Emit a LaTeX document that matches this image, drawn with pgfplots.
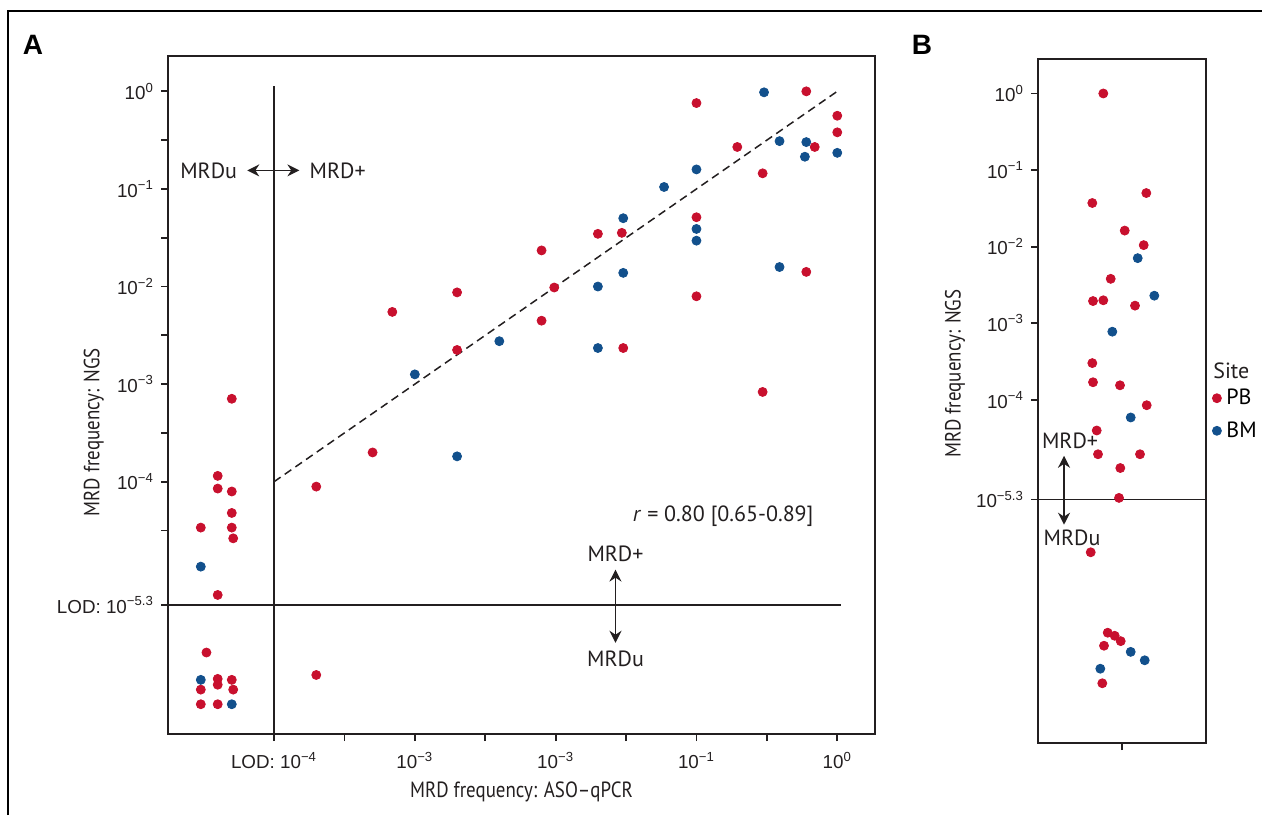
\documentclass[border=0pt]{standalone}
\usepackage{fontspec}
\setmainfont{PT Sans}
\newfontfamily\tickfont{Liberation Sans}
\newfontfamily\labfont[FakeStretch=0.86]{PT Sans}
\usepackage{pgfplots}
\pgfplotsset{compat=1.18}
\usetikzlibrary{arrows.meta}

\definecolor{pbred}{RGB}{200,16,46}
\definecolor{bmblue}{RGB}{18,80,140}
\definecolor{axgray}{RGB}{35,31,32}

% log10 values; points left of / below LOD are jittered
\pgfplotstableread{
x y
-0.22 0.00
-1.00 -0.12
0.00 -0.25
0.00 -0.42
-0.71 -0.57
-0.16 -0.57
-0.53 -0.84
-1.00 -1.29
-1.70 -1.46
-1.53 -1.45
-2.10 -1.63
-0.22 -1.85
-2.01 -2.01
-2.70 -2.06
-3.16 -2.26
-1.00 -2.10
-2.10 -2.35
-2.70 -2.65
-1.52 -2.63
-0.53 -3.08
-4.30 -3.15
-3.30 -3.70
-3.70 -4.05
-4.40 -3.94
-4.40 -4.07
-4.30 -4.10
-4.30 -4.32
-4.52 -4.47
-4.30 -4.47
-4.29 -4.58
-4.40 -5.16
-4.48 -5.75
-4.40 -6.02
-4.30 -6.03
-4.40 -6.08
-4.52 -6.13
-4.29 -6.13
-4.52 -6.28
-4.40 -6.28
-3.70 -5.98
}\pbA
\pgfplotstableread{
x y
-0.52 -0.01
-0.41 -0.51
-0.22 -0.52
-0.23 -0.67
0.00 -0.63
-1.00 -0.80
-1.23 -0.98
-1.52 -1.30
-1.00 -1.41
-1.00 -1.53
-0.41 -1.80
-1.52 -1.86
-1.70 -2.00
-2.40 -2.56
-1.70 -2.63
-3.00 -2.90
-2.70 -3.74
-4.52 -4.87
-4.52 -6.03
-4.30 -6.28
}\bmA
\pgfplotstableread{
x y
-1.87 0.00
-2.97 -1.43
2.43 -1.30
0.27 -1.79
2.17 -1.98
-1.13 -2.42
-2.90 -2.71
-1.87 -2.70
1.30 -2.77
-2.97 -3.52
-2.90 -3.77
-0.20 -3.81
2.47 -4.07
-2.53 -4.40
-2.40 -4.71
1.80 -4.71
-0.17 -4.89
-0.30 -5.28
-3.13 -5.99
-1.43 -7.04
-0.73 -7.08
-0.13 -7.15
-1.80 -7.21
-1.97 -7.70
}\pbB
\pgfplotstableread{
x y
1.57 -2.15
3.23 -2.64
-0.97 -3.11
0.87 -4.23
0.87 -7.29
2.27 -7.40
-2.17 -7.51
}\bmB

\newcommand{\tp}[1]{10\textsuperscript{#1}}

\tikzset{
  dbl/.style={line width=0.75pt, draw=axgray, {Stealth[length=6pt,width=6pt]}-{Stealth[length=6pt,width=6pt]}},
  ann/.style={font=\fontsize{11}{13}\selectfont, text=axgray},
}
\pgfplotsset{
  mrd/.style={
    scale only axis, clip=false,
    axis line style={axgray, line width=1.3pt},
    tick style={axgray, line width=0.9pt},
    tick align=outside, major tick length=3.5pt,
    xtick pos=bottom, ytick pos=left,
    ticklabel style={font=\tickfont\fontsize{9.4}{11}\selectfont, text=axgray},
    label style={font=\labfont\fontsize{11}{13}\selectfont, text=axgray},
    every axis plot/.append style={only marks, mark=*, mark size=2.25pt},
  },
  pb/.style={mark options={draw=pbred, fill=pbred}},
  bm/.style={mark options={draw=bmblue, fill=bmblue}},
}

\begin{document}
\begin{tikzpicture}
\draw[line width=1pt] (4pt,-407.5pt) -- (4pt,-5.5pt) -- (631pt,-5.5pt);
\node[font=\tickfont\bfseries\fontsize{14}{16}\selectfont] at (16.5pt,-22.5pt) {A};
\node[font=\tickfont\bfseries\fontsize{14}{16}\selectfont] at (461pt,-22.5pt) {B};

\begin{axis}[mrd,
  at={(84pt,-367pt)}, anchor=south west,
  width=353.5pt, height=339pt,
  xmin=-4.753, xmax=0.268, ymin=-6.585, ymax=0.362,
  xtick={-4,-3.5,-3,-2.5,-2,-1.5,-1,-0.5,0},
  xticklabels={{LOD: \tp{−4}},{},{\tp{−3}},{},{\tp{−3}},{},{\tp{−1}},{},{\tp{0}}},
  ytick={0,-0.5,-1,-1.5,-2,-2.5,-3,-3.5,-4,-4.5,-5.26},
  yticklabels={{\tp{0}},{},{\tp{−1}},{},{\tp{−2}},{},{\tp{−3}},{},{\tp{−4}},{},{LOD: \tp{−5.3}}},
  xticklabel style={yshift=-2pt},
  xlabel={MRD frequency: ASO–qPCR},
  ylabel={MRD frequency: NGS},
  xlabel style={at={(axis description cs:0.5,-0.0855)}, anchor=center},
  ylabel style={at={(axis description cs:-0.105,0.445)}, anchor=center},
]
\draw[line width=0.8pt, axgray] (axis cs:-4,0.05) -- (axis cs:-4,-6.585);
\draw[line width=0.8pt, axgray] (axis cs:-4.753,-5.26) -- (axis cs:0.03,-5.26);
\draw[line width=0.75pt, axgray, dash pattern=on 4pt off 2.5pt] (axis cs:-4,-4) -- (axis cs:0,0);
\addplot[pb] table {\pbA};
\addplot[bm] table {\bmA};
\draw[dbl] (axis cs:-4.19,-0.81) -- (axis cs:-3.82,-0.81);
\node[ann, anchor=east, inner sep=0pt] at (axis cs:-4.26,-0.81) {MRDu};
\node[ann, anchor=west, inner sep=0pt] at (axis cs:-3.75,-0.81) {MRD+};
\draw[dbl] (axis cs:-1.575,-4.90) -- (axis cs:-1.575,-5.65);
\node[ann] at (axis cs:-1.575,-4.74) {MRD+};
\node[ann] at (axis cs:-1.575,-5.81) {MRDu};
\node[ann] at (axis cs:-0.81,-4.35) {\textit{r} = 0.80 [0.65-0.89]};
\end{axis}

\begin{axis}[mrd,
  at={(519pt,-371.5pt)}, anchor=south west,
  width=84pt, height=342pt,
  xmin=-8.4, xmax=8.4, ymin=-8.48, ymax=0.45,
  xtick={0}, xticklabels={},
  ytick={0,-1,-2,-3,-4,-5.3},
  yticklabels={{\tp{0}},{\tp{−1}},{\tp{−2}},{\tp{−3}},{\tp{−4}},{\tp{−5.3}}},
  ylabel={MRD frequency: NGS},
  ylabel style={at={(axis description cs:-0.494,0.54)}, anchor=center},
  legend style={draw=none, fill=none, font=\fontsize{11}{13}\selectfont,
    at={(axis cs:9.0,-3.80)}, anchor=north west, inner sep=0pt,
    row sep=3pt, nodes={inner xsep=2.5pt}},
  legend cell align=left,
]
\draw[line width=0.8pt, axgray] (axis cs:-8.4,-5.3) -- (axis cs:8.4,-5.3);
\addplot[pb] table {\pbB};
\addlegendentry{PB}
\addplot[bm] table {\bmB};
\addlegendentry{BM}
\draw[dbl] (axis cs:-5.8,-4.73) -- (axis cs:-5.8,-5.63);
\node[ann] at (axis cs:-5.2,-4.54) {MRD+};
\node[ann] at (axis cs:-5.0,-5.80) {MRDu};
\node[ann, anchor=west, inner sep=0pt] at (axis cs:9.1,-3.62) {Site};
\end{axis}

\pgfresetboundingbox
\path (0,0) rectangle (631pt,-407.5pt);
\end{tikzpicture}
\end{document}
